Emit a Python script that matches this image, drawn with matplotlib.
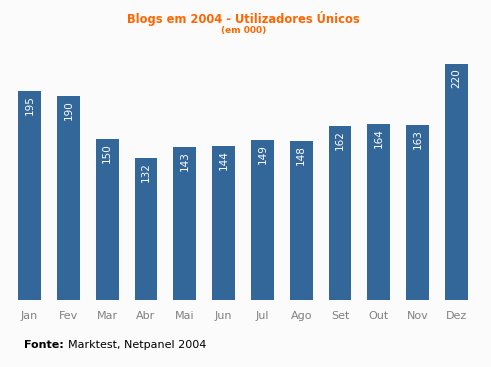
import matplotlib
matplotlib.use("Agg")
import matplotlib.pyplot as plt

months = ["Jan", "Fev", "Mar", "Abr", "Mai", "Jun", "Jul", "Ago", "Set", "Out", "Nov", "Dez"]
values = [195, 190, 150, 132, 143, 144, 149, 148, 162, 164, 163, 220]

W, H = 491, 367
bg = "#fbfbfb"
fig = plt.figure(figsize=(W / 100, H / 100), dpi=100, facecolor=bg)

# axes placement in pixels
left_px, right_px = 10.1, 475.9
bottom_px, top_px = 300, 64
ax = fig.add_axes([left_px / W, (H - bottom_px) / H, (right_px - left_px) / W, (bottom_px - top_px) / H])
ax.set_facecolor(bg)
x = list(range(len(months)))
ax.bar(x, values, width=0.59, color="#336699", clip_on=False)
ax.set_xlim(-0.5, len(months) - 0.5)
ax.set_ylim(0, 220)
for s in ax.spines.values():
    s.set_visible(False)
ax.set_yticks([])
ax.set_xticks(x)
ax.set_xticklabels(months, color="#808080", fontsize=8)
ax.tick_params(axis="x", length=0, pad=8)

for xi, v in zip(x, values):
    ax.annotate(str(v), (xi, v), xytext=(0, -3), textcoords="offset points",
                rotation=90, ha="center", va="top", color="white", fontsize=7.5)

fig.text(243 / W, 1 - 18 / H, "Blogs em 2004 - Utilizadores Únicos", ha="center", va="center",
         color="#ff6600", fontsize=8.3, fontweight="bold")
fig.text(244 / W, 1 - 31 / H, "(em 000)", ha="center", va="center",
         color="#ff6600", fontsize=6.5, fontweight="bold")
t1 = fig.text(24 / W, 1 - 345 / H, "Fonte:", ha="left", va="center", color="black",
              fontsize=8, fontweight="bold")
fig.canvas.draw()
bb = t1.get_window_extent()
fig.text((bb.x1 + 4) / W, 1 - 345 / H, "Marktest, Netpanel 2004", ha="left", va="center",
         color="black", fontsize=8)

fig.savefig("out.png", dpi=100, facecolor=bg)
